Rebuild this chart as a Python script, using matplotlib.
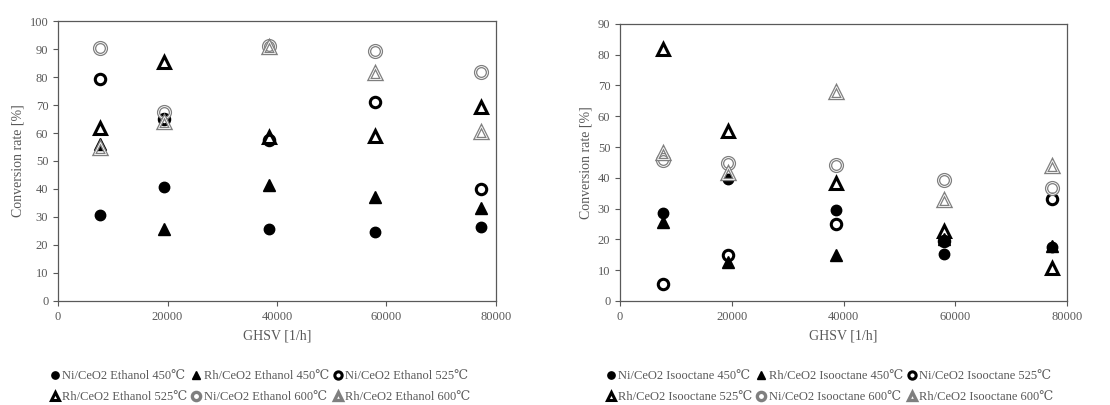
import matplotlib
matplotlib.use("Agg")
from matplotlib import pyplot as plt

plt.rcParams['font.family'] = ['Liberation Serif', 'DejaVu Serif']

ghsv = [7700, 19300, 38600, 57900, 77300]

# ethanol
eth_ni450 = [30.6, 40.8, 25.7, 24.5, 26.3]
eth_rh450 = [56.0, 25.6, 41.3, 37.1, 33.3]
eth_ni525 = [79.3, 64.9, 57.5, 71.0, 40.0]
eth_rh525 = [61.7, 85.4, 58.7, 58.8, 69.4]
eth_ni600 = [90.5, 67.6, 91.0, 89.3, 81.9]
eth_rh600 = [54.8, 63.8, 90.8, 81.3, 60.5]

# isooctane
iso_ni450 = [28.7, 39.7, 29.4, 15.3, 17.5]
iso_rh450 = [25.8, 12.8, 14.9, 20.0, 17.7]
iso_ni525 = [5.5, 14.9, 24.9, 19.5, 33.2]
iso_rh525 = [81.9, 55.1, 38.4, 22.6, 10.6]
iso_ni600 = [45.8, 44.8, 44.1, 39.2, 36.7]
iso_rh600 = [48.0, 41.5, 67.8, 32.9, 43.7]

grey = '#7f7f7f'
txt = '#595959'


def panel(ax, series, names, ymax):
    ni450, rh450, ni525, rh525, ni600, rh600 = series
    h = []
    h.append(ax.plot(ghsv, ni450, 'o', color='black', ms=7.5, label=names[0])[0])
    h.append(ax.plot(ghsv, rh450, '^', color='black', ms=8, label=names[1])[0])
    h.append(ax.plot(ghsv, ni525, 'o', mfc='none', mec='black', mew=2.2, ms=7.5, label=names[2])[0])
    h.append(ax.plot(ghsv, rh525, '^', mfc='none', mec='black', mew=2.2, ms=8.5, label=names[3])[0])
    h.append(ax.plot(ghsv, ni600, 'o', mfc='none', mec=grey, mew=2.4, ms=8.5, label=names[4])[0])
    ax.plot(ghsv, ni600, 'o', mfc='none', mec='white', mew=0.6, ms=8.5)
    h.append(ax.plot(ghsv, rh600, '^', mfc='none', mec=grey, mew=2.4, ms=9, label=names[5])[0])
    ax.plot(ghsv, rh600, '^', mfc='none', mec='white', mew=0.6, ms=9)

    ax.set_xlim(0, 80000)
    ax.set_ylim(0, ymax)
    ax.set_xticks([0, 20000, 40000, 60000, 80000])
    ax.set_yticks(range(0, ymax + 1, 10))
    for s in ax.spines.values():
        s.set_color('#595959')
        s.set_linewidth(0.9)
    ax.tick_params(colors='#595959', labelcolor=txt, labelsize=9, length=3.5, width=0.8)
    ax.set_xlabel('GHSV [1/h]', color=txt, fontsize=10, labelpad=5)
    ax.set_ylabel('Conversion rate [%]', color=txt, fontsize=10)
    return h


fig = plt.figure(figsize=(11.1, 4.05), dpi=100)
ax1 = fig.add_axes([0.0523, 0.257, 0.3945, 0.691])
ax2 = fig.add_axes([0.5586, 0.257, 0.4027, 0.684])

eth_names = ['Ni/CeO2 Ethanol 450℃', 'Rh/CeO2 Ethanol 450℃', 'Ni/CeO2 Ethanol 525℃',
             'Rh/CeO2 Ethanol 525℃', 'Ni/CeO2 Ethanol 600℃', 'Rh/CeO2 Ethanol 600℃']
iso_names = ['Ni/CeO2 Isooctane 450℃', 'Rh/CeO2 Isooctane 450℃', 'Ni/CeO2 Isooctane 525℃',
             'Rh/CeO2 Isooctane 525℃', 'Ni/CeO2 Isooctane 600℃', 'Rh/CeO2 Isooctane 600℃']

h1 = panel(ax1, [eth_ni450, eth_rh450, eth_ni525, eth_rh525, eth_ni600, eth_rh600], eth_names, 100)
h2 = panel(ax2, [iso_ni450, iso_rh450, iso_ni525, iso_rh525, iso_ni600, iso_rh600], iso_names, 90)

# legends in row order (3 per row)
def legend(ax, handles, x, y):
    order = [0, 3, 1, 4, 2, 5]
    hs = [handles[i] for i in order]
    leg = fig.legend(hs, [h.get_label() for h in hs], loc='center', bbox_to_anchor=(x, y),
                     ncol=3, frameon=False, fontsize=9, markerscale=0.7,
                     handlelength=0.6, handletextpad=0.3, columnspacing=0.4,
                     labelspacing=0.7, borderpad=0)
    for t in leg.get_texts():
        t.set_color(txt)

legend(ax1, h1, 0.235, 0.045)
legend(ax2, h2, 0.748, 0.045)

fig.savefig('out.png', dpi=100)
